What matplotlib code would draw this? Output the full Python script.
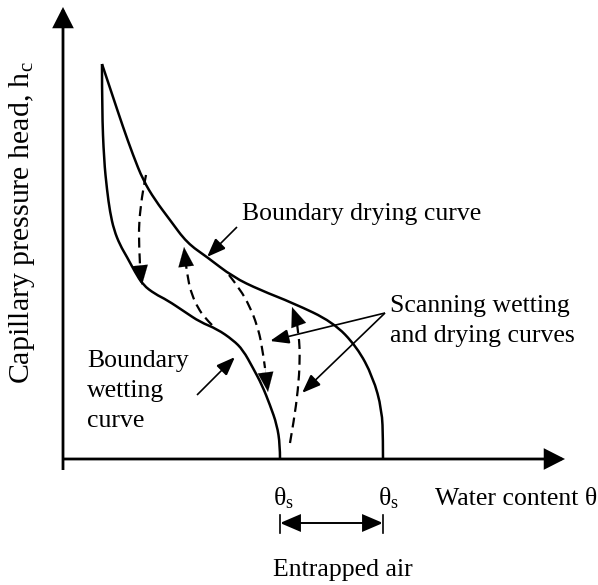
"""
Schematic of capillary pressure head vs water content hysteresis
"""

import matplotlib.pyplot as plt
from matplotlib.patches import PathPatch
from matplotlib.path import Path

# boundary curves (theta, h in sketch units)
drying_theta = [39, 49, 60, 70, 80, 92, 107, 124, 144, 170, 197, 230, 270, 294, 310, 319, 320, 320]
drying_h = [395, 365, 332, 304, 279, 259, 239, 216, 202, 182, 169, 156, 137, 112, 82, 49, 19, 0]

wetting_theta = [39, 39, 41, 44, 47, 51, 57, 64, 72, 80, 92, 104, 122, 137, 154, 170, 180, 190, 199, 207, 214, 217, 217]
wetting_h = [395, 349, 299, 269, 247, 229, 214, 202, 187, 174, 165, 159, 147, 137, 130, 119, 109, 91, 74, 54, 34, 14, 0]

# scanning curves (dashed), listed from start to arrow tip
scan1_theta = [83, 80, 78, 76, 76, 77, 79]
scan1_h = [284, 269, 254, 236, 214, 194, 174]
scan2_theta = [149, 142, 135, 129, 125, 123, 121]
scan2_h = [134, 141, 151, 164, 179, 194, 212]
scan3_theta = [166, 177, 187, 194, 199, 202, 205]
scan3_h = [184, 170, 152, 134, 114, 91, 67]
scan4_theta = [227, 231, 235, 237, 236, 233, 229]
scan4_h = [16, 39, 69, 99, 124, 141, 152]

theta_s_wet = wetting_theta[-1]
theta_s_dry = drying_theta[-1]

y_label = "Capillary pressure head, h$_{\\mathrm{c}}$"
x_label = "Water content θ"
theta_s_label = "θ$_{\\mathrm{s}}$"
air_label = "Entrapped air"
drying_label = "Boundary drying curve"
wetting_label = ["Boundary", "wetting", "curve"]
scan_label = ["Scanning wetting", "and drying curves"]

fig_dpi = 100
line_color = "black"
curve_lw = 1.8
axis_lw = 2.0
note_lw = 1.2
fontsize = 18.5
label_fontsize = 21.5
head_big = "-|>,head_length=0.55,head_width=0.28"
head_scan = "-|>,head_length=0.7,head_width=0.28"
head_note = "-|>,head_length=0.65,head_width=0.25"

plt.rcParams["font.family"] = ["Liberation Serif", "DejaVu Serif"]
plt.rcParams["mathtext.fontset"] = "custom"
plt.rcParams["mathtext.rm"] = "Liberation Serif"
plt.rcParams["mathtext.it"] = "Liberation Serif:italic"

fig = plt.figure(figsize=(5.98, 5.85), dpi=fig_dpi, facecolor="white")
ax = fig.add_axes([0, 0, 1, 1])
ax.set_xlim(-63, 535)
ax.set_ylim(-126, 459)
ax.axis("off")


def arrow(start, end, lw, scale, style):
    ax.annotate(
        "",
        xy=end,
        xytext=start,
        arrowprops=dict(
            arrowstyle=style,
            color=line_color,
            lw=lw,
            mutation_scale=scale,
            shrinkA=0,
            shrinkB=0,
            joinstyle="miter",
            capstyle="butt",
        ),
    )


def smooth_curve(xs, ys, **kw):
    # quadratic bezier through the midpoints, the read points act as controls
    pts = list(zip(xs, ys))
    verts = [pts[0]]
    codes = [Path.MOVETO]
    for i in range(1, len(pts) - 1):
        mid = ((pts[i][0] + pts[i + 1][0]) / 2, (pts[i][1] + pts[i + 1][1]) / 2)
        if i == len(pts) - 2:
            mid = pts[-1]
        verts += [pts[i], mid]
        codes += [Path.CURVE3, Path.CURVE3]
    ax.add_patch(PathPatch(Path(verts, codes), fill=False, **kw))


# axes
arrow((0, -11), (0, 452), axis_lw, 22, head_big)
arrow((0, 0), (502, 0), axis_lw, 22, head_big)

# boundary curves
smooth_curve(drying_theta, drying_h, color=line_color, lw=curve_lw, joinstyle="round")
smooth_curve(wetting_theta, wetting_h, color=line_color, lw=curve_lw, joinstyle="round")

# scanning curves
for th, h in [
    (scan1_theta, scan1_h),
    (scan2_theta, scan2_h),
    (scan3_theta, scan3_h),
    (scan4_theta, scan4_h),
]:
    smooth_curve(th[:-1], h[:-1], color=line_color, lw=1.6, linestyle=(0, (4.5, 2.6)))
    arrow((th[-2], h[-2]), (th[-1], h[-1]), 0.1, 20, head_scan)

# annotation arrows
arrow((174, 232), (144, 202), note_lw, 18, head_note)
arrow((134, 64), (172, 102), note_lw, 18, head_note)
arrow((322, 146), (207, 118), note_lw, 18, head_note)
arrow((322, 146), (239, 66), note_lw, 18, head_note)

# entrapped air span
arrow(
    (theta_s_wet, -64),
    (theta_s_dry, -64),
    1.4,
    18,
    "<|-|>,head_length=0.7,head_width=0.3",
)
ax.plot([theta_s_wet, theta_s_wet], [-56, -74], color=line_color, lw=1.2)
ax.plot([theta_s_dry, theta_s_dry], [-56, -74], color=line_color, lw=1.2)

# texts
ax.text(179, 239, drying_label, fontsize=fontsize, va="baseline", ha="left")
for i, line in enumerate(scan_label):
    ax.text(327, 147 - 30 * i, line, fontsize=fontsize, va="baseline", ha="left")
for i, line in enumerate(wetting_label):
    ax.text(24, 92 - 30 * i, line, fontsize=fontsize, va="baseline", ha="left")
ax.text(theta_s_wet - 7, -46, theta_s_label, fontsize=fontsize, va="baseline", ha="left")
ax.text(theta_s_dry - 5, -46, theta_s_label, fontsize=fontsize, va="baseline", ha="left")
ax.text(372, -46, x_label, fontsize=fontsize, va="baseline", ha="left")
ax.text(280, -117, air_label, fontsize=fontsize, va="baseline", ha="center")
ax.text(-41, 236, y_label, fontsize=label_fontsize, rotation=90, va="center", ha="center")

plt.savefig("out.png", dpi=fig_dpi, facecolor="white")
plt.close()
